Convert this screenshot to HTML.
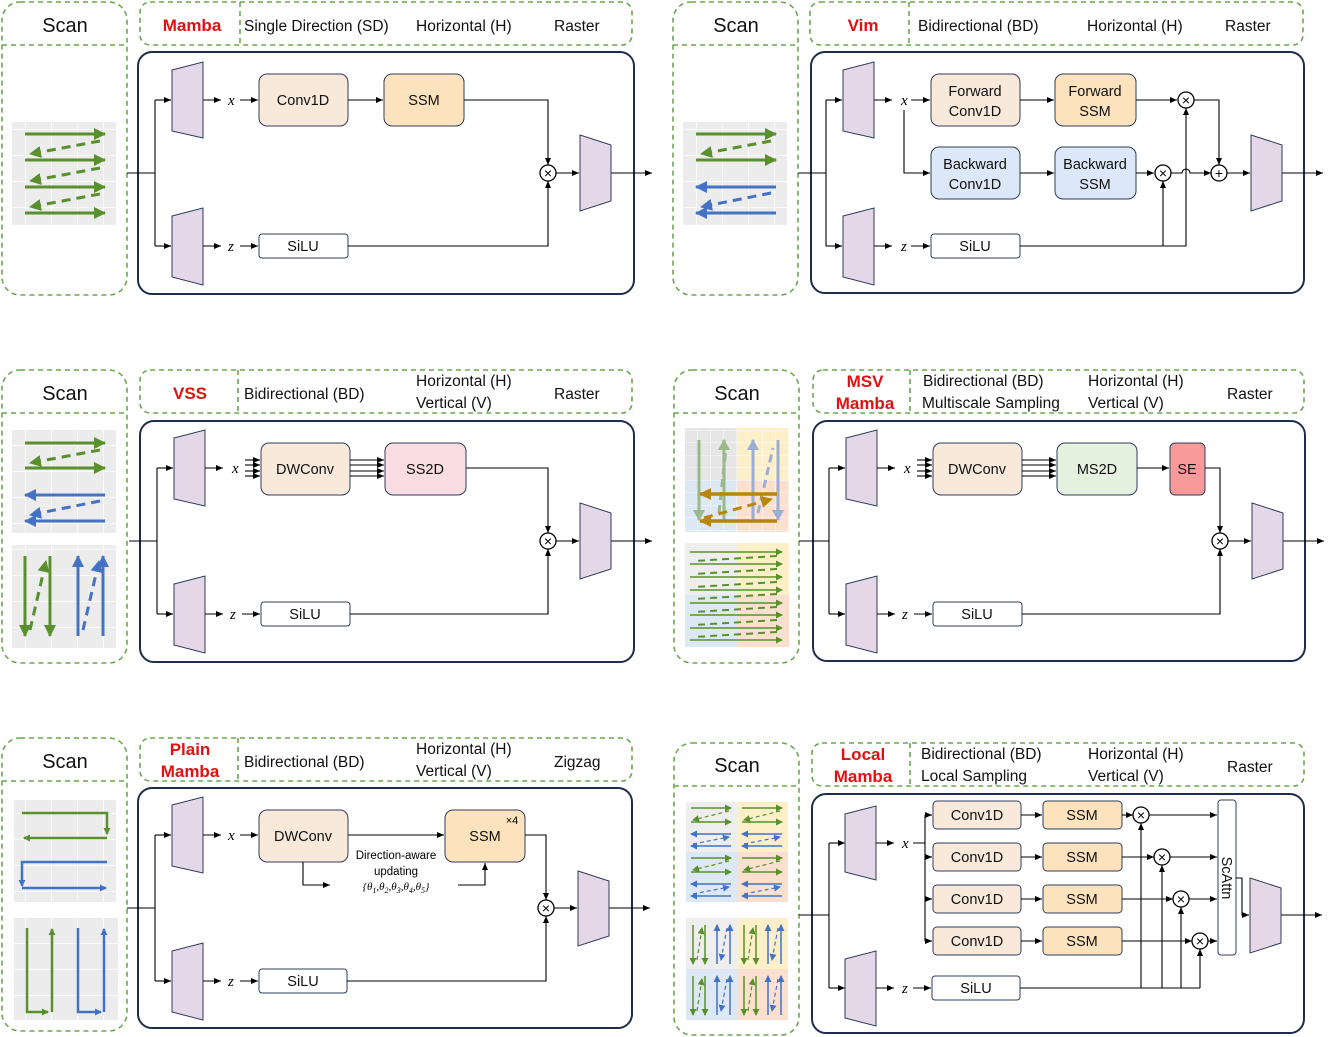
<!DOCTYPE html>
<html><head><meta charset="utf-8"><style>
body{margin:0;background:#fff}
svg{display:block;font-family:"Liberation Sans",sans-serif}
.d{fill:none;stroke:#6aa84f;stroke-width:1.6;stroke-dasharray:5 4}
.m{fill:none;stroke:#1f2d4d;stroke-width:2}
.l{fill:none;stroke:#000;stroke-width:1.1}
.a{fill:none;stroke:#000;stroke-width:1.1;marker-end:url(#ar)}
.tr{fill:#e3d7e8;stroke:#2f3c5a;stroke-width:1}
.bx{stroke:#2f3c5a;stroke-width:1}
.ot{fill:#fff;stroke:#000;stroke-width:1.3}
.h{font-size:15.5px;fill:#111}
.r{font-size:17px;font-weight:bold;fill:#e31010;text-anchor:middle}
.sc{font-size:20px;text-anchor:middle;fill:#111}
.bt{font-size:14.5px;text-anchor:middle;fill:#111}
.vx{font-family:"Liberation Serif",serif;font-style:italic;font-size:15px}
.ox{font-size:14px;text-anchor:middle}
.g{stroke:#5a8f2e;stroke-width:3;fill:none;marker-end:url(#ga)}
.gd{stroke:#5a8f2e;stroke-width:3;fill:none;stroke-dasharray:9 6;marker-end:url(#ga)}
.b{stroke:#4472c4;stroke-width:3;fill:none;marker-end:url(#ba)}
.bd{stroke:#4472c4;stroke-width:3;fill:none;stroke-dasharray:9 6;marker-end:url(#ba)}
.g1{stroke:#5a8f2e;stroke-width:1.5;fill:none;marker-end:url(#gs)}
.g1d{stroke:#5a8f2e;stroke-width:1.2;fill:none;stroke-dasharray:4 3;marker-end:url(#gs)}
.b1{stroke:#4472c4;stroke-width:1.5;fill:none;marker-end:url(#bs)}
.b1d{stroke:#4472c4;stroke-width:1.2;fill:none;stroke-dasharray:4 3;marker-end:url(#bs)}
</style></head><body>
<svg width="1329" height="1037" viewBox="0 0 1329 1037" xmlns="http://www.w3.org/2000/svg">
<defs>
<marker id="ar" markerWidth="8" markerHeight="8" refX="7" refY="4" orient="auto" markerUnits="userSpaceOnUse"><path d="M0,1 L7,4 L0,7z" fill="#000"/></marker>
<marker id="ga" markerWidth="14" markerHeight="12" refX="11" refY="6" orient="auto" markerUnits="userSpaceOnUse"><path d="M0,0 L12,6 L0,12z" fill="#5a8f2e"/></marker>
<marker id="ba" markerWidth="14" markerHeight="12" refX="11" refY="6" orient="auto" markerUnits="userSpaceOnUse"><path d="M0,0 L12,6 L0,12z" fill="#4472c4"/></marker>
<marker id="gs" markerWidth="8" markerHeight="8" refX="6" refY="3.5" orient="auto" markerUnits="userSpaceOnUse"><path d="M0,0 L7,3.5 L0,7z" fill="#5a8f2e"/></marker>
<marker id="bs" markerWidth="8" markerHeight="8" refX="6" refY="3.5" orient="auto" markerUnits="userSpaceOnUse"><path d="M0,0 L7,3.5 L0,7z" fill="#4472c4"/></marker>
<marker id="ya" markerWidth="14" markerHeight="12" refX="11" refY="6" orient="auto" markerUnits="userSpaceOnUse"><path d="M0,0 L12,6 L0,12z" fill="#b8860b"/></marker>
<marker id="la" markerWidth="12" markerHeight="12" refX="10" refY="6" orient="auto" markerUnits="userSpaceOnUse"><path d="M0,0 L11,6 L0,12z" fill="#9ab88a"/></marker>
<marker id="lb" markerWidth="12" markerHeight="12" refX="10" refY="6" orient="auto" markerUnits="userSpaceOnUse"><path d="M0,0 L11,6 L0,12z" fill="#9aaed6"/></marker>
<pattern id="grid" width="26" height="26" patternUnits="userSpaceOnUse"><rect width="26" height="26" fill="#ececec"/><path d="M26,0V26M0,26H26" stroke="#fff" stroke-width="1.5"/></pattern>
<pattern id="gridS" width="13" height="12.5" patternUnits="userSpaceOnUse"><path d="M13,0V12.5M0,12.5H13" stroke="#fff" stroke-width="1"/></pattern>
</defs>

<!-- ============ PANEL 1 : Mamba ============ -->
<g>
<rect class="d" x="2" y="2" width="125" height="293" rx="18"/><line class="d" x1="2" y1="45" x2="127" y2="45"/>
<text class="sc" x="65" y="32">Scan</text>
<rect class="d" x="140" y="2" width="492" height="43" rx="10"/><line class="d" x1="240" y1="2" x2="240" y2="45"/>
<text class="r" x="192" y="31">Mamba</text>
<text class="h" x="244" y="31">Single Direction (SD)</text><text class="h" x="416" y="31">Horizontal (H)</text><text class="h" x="554" y="31">Raster</text>
<rect class="m" x="138" y="52" width="496" height="242" rx="14"/>
<rect x="12" y="122" width="104" height="103" fill="url(#grid)"/>
<path class="g" d="M25,134H105"/><path class="g" d="M25,160H105"/><path class="g" d="M25,187H105"/><path class="g" d="M25,213H105"/>
<path class="gd" d="M100,141L30,154"/><path class="gd" d="M100,168L30,181"/><path class="gd" d="M100,194L30,207"/>
<path class="l" d="M127,173H155M155,100V246"/><path class="a" d="M155,100H171"/><path class="a" d="M155,246H171"/>
<polygon class="tr" points="172,70 203,62 203,138 172,131"/><polygon class="tr" points="172,216 203,208 203,285 172,277"/>
<path class="a" d="M203,100H221"/><path class="a" d="M240,100H258"/><path class="a" d="M203,246H221"/><path class="a" d="M240,246H258"/>
<text class="vx" x="228" y="105">x</text><text class="vx" x="228" y="251">z</text>
<rect class="bx" x="259" y="74" width="89" height="52" rx="8" fill="#f8e9da"/><text class="bt" x="303" y="105">Conv1D</text>
<rect class="bx" x="384" y="74" width="80" height="52" rx="8" fill="#fce3bd"/><text class="bt" x="424" y="105">SSM</text>
<path class="a" d="M348,100H383"/><path class="a" d="M464,100H548V165"/>
<rect class="bx" x="259" y="234" width="89" height="24" rx="3" fill="#fff"/><text class="bt" x="303" y="251">SiLU</text>
<path class="a" d="M348,246H548V181"/>
<circle class="ot" cx="548" cy="173" r="8"/><text class="ox" x="548" y="178">×</text>
<path class="a" d="M556,173H579"/><path class="a" d="M611,173H652"/>
<polygon class="tr" points="580,135 611,145 611,201 580,211"/>
</g>

<!-- ============ PANEL 2 : Vim ============ -->
<g transform="translate(671,0)">
<rect class="d" x="2" y="2" width="125" height="293" rx="18"/><line class="d" x1="2" y1="45" x2="127" y2="45"/>
<text class="sc" x="65" y="32">Scan</text>
<rect class="d" x="139" y="2" width="493" height="43" rx="10"/><line class="d" x1="238" y1="2" x2="238" y2="45"/>
<text class="r" x="192" y="31">Vim</text>
<text class="h" x="247" y="31">Bidirectional (BD)</text><text class="h" x="416" y="31">Horizontal (H)</text><text class="h" x="554" y="31">Raster</text>
<rect class="m" x="140" y="52" width="493" height="241" rx="14"/>
<rect x="12" y="122" width="104" height="103" fill="url(#grid)"/>
<path class="g" d="M25,134H105"/><path class="g" d="M25,160H105"/><path class="gd" d="M100,141L30,154"/>
<path class="b" d="M105,187H25"/><path class="b" d="M105,213H25"/><path class="bd" d="M100,193L30,207"/>
<path class="l" d="M127,173H155M155,100V246"/><path class="a" d="M155,100H171"/><path class="a" d="M155,246H171"/>
<polygon class="tr" points="172,70 203,62 203,138 172,131"/><polygon class="tr" points="172,216 203,208 203,285 172,277"/>
<path class="a" d="M203,100H221"/><path class="a" d="M240,100H259"/><path class="a" d="M203,246H221"/><path class="a" d="M240,246H259"/>
<text class="vx" x="230" y="105">x</text><text class="vx" x="230" y="251">z</text>
<path class="a" d="M233,110V173H259"/>
<rect class="bx" x="260" y="74" width="89" height="52" rx="8" fill="#f8e9da"/><text class="bt" x="304" y="96">Forward</text><text class="bt" x="304" y="116">Conv1D</text>
<rect class="bx" x="384" y="74" width="81" height="52" rx="8" fill="#fce3bd"/><text class="bt" x="424" y="96">Forward</text><text class="bt" x="424" y="116">SSM</text>
<rect class="bx" x="260" y="147" width="89" height="52" rx="8" fill="#dce8f8"/><text class="bt" x="304" y="169">Backward</text><text class="bt" x="304" y="189">Conv1D</text>
<rect class="bx" x="384" y="147" width="81" height="52" rx="8" fill="#dce8f8"/><text class="bt" x="424" y="169">Backward</text><text class="bt" x="424" y="189">SSM</text>
<path class="a" d="M349,100H383"/><path class="a" d="M349,173H383"/><path class="a" d="M465,100H506"/><path class="a" d="M465,173H483"/>
<rect class="bx" x="260" y="234" width="89" height="24" rx="3" fill="#fff"/><text class="bt" x="304" y="251">SiLU</text>
<path class="a" d="M349,246H515V108"/><path class="a" d="M492,246V181"/>
<circle class="ot" cx="515" cy="100" r="8"/><text class="ox" x="515" y="105">×</text>
<circle class="ot" cx="492" cy="173" r="8"/><text class="ox" x="492" y="178">×</text>
<path class="a" d="M523,100H548V165"/>
<path class="a" d="M500,173H511 A4,4 0 0 1 519,173H540"/>
<circle class="ot" cx="548" cy="173" r="8"/><text class="ox" x="548" y="178">+</text>
<path class="a" d="M556,173H579"/><path class="a" d="M611,173H652"/>
<polygon class="tr" points="580,135 611,145 611,201 580,211"/>
</g>

<!-- ============ PANEL 3 : VSS ============ -->
<g transform="translate(0,368)">
<rect class="d" x="2" y="2" width="125" height="293" rx="18"/><line class="d" x1="2" y1="45" x2="127" y2="45"/>
<text class="sc" x="65" y="32">Scan</text>
<rect class="d" x="140" y="2" width="492" height="43" rx="10"/><line class="d" x1="238" y1="2" x2="238" y2="45"/>
<text class="r" x="190" y="31">VSS</text>
<text class="h" x="244" y="31">Bidirectional (BD)</text><text class="h" x="416" y="18">Horizontal (H)</text><text class="h" x="416" y="40">Vertical (V)</text><text class="h" x="554" y="31">Raster</text>
<rect class="m" x="140" y="53" width="494" height="241" rx="14"/>
<rect x="12" y="62" width="104" height="103" fill="url(#grid)"/>
<path class="g" d="M25,75H105"/><path class="g" d="M25,100H105"/><path class="gd" d="M100,82L30,95"/>
<path class="b" d="M105,127H25"/><path class="b" d="M105,153H25"/><path class="bd" d="M100,133L30,147"/>
<rect x="12" y="177" width="104" height="103" fill="url(#grid)"/>
<path class="g" d="M25,188V268"/><path class="g" d="M50,188V268"/><path class="gd" d="M30,262L46,193"/>
<path class="b" d="M78,268V188"/><path class="b" d="M103,268V188"/><path class="bd" d="M83,262L99,193"/>
<g transform="translate(2,0)">
<path class="l" d="M127,173H155M155,100V246"/><path class="a" d="M155,100H171"/><path class="a" d="M155,246H171"/>
<polygon class="tr" points="172,70 203,62 203,138 172,131"/><polygon class="tr" points="172,216 203,208 203,285 172,277"/>
<path class="a" d="M203,100H221"/><path class="a" d="M203,246H221"/><path class="a" d="M240,246H258"/>
<path class="a" d="M243,92H258"/><path class="a" d="M243,97H258"/><path class="a" d="M243,103H258"/><path class="a" d="M243,108H258"/>
<text class="vx" x="230" y="105">x</text><text class="vx" x="228" y="251">z</text>
<rect class="bx" x="259" y="75" width="89" height="52" rx="8" fill="#f8e9da"/><text class="bt" x="303" y="106">DWConv</text>
<rect class="bx" x="383" y="75" width="81" height="52" rx="8" fill="#f9dde3"/><text class="bt" x="423" y="106">SS2D</text>
<path class="a" d="M348,92H382"/><path class="a" d="M348,97H382"/><path class="a" d="M348,103H382"/><path class="a" d="M348,108H382"/>
<path class="a" d="M464,100H546V165"/>
<rect class="bx" x="259" y="234" width="89" height="24" rx="3" fill="#fff"/><text class="bt" x="303" y="251">SiLU</text>
<path class="a" d="M348,246H546V181"/>
<circle class="ot" cx="546" cy="173" r="8"/><text class="ox" x="546" y="178">×</text>
<path class="a" d="M554,173H577"/><path class="a" d="M609,173H650"/>
<polygon class="tr" points="578,135 609,145 609,201 578,211"/>
</g>
</g>

<!-- ============ PANEL 4 : MSV Mamba ============ -->
<g transform="translate(672,368)">
<rect class="d" x="2" y="2" width="125" height="293" rx="18"/><line class="d" x1="2" y1="45" x2="127" y2="45"/>
<text class="sc" x="65" y="32">Scan</text>
<rect class="d" x="141" y="2" width="491" height="43" rx="10"/><line class="d" x1="238" y1="2" x2="238" y2="45"/>
<text class="r" x="193" y="19">MSV</text><text class="r" x="193" y="41">Mamba</text>
<text class="h" x="251" y="18">Bidirectional (BD)</text><text class="h" x="250" y="40">Multiscale Sampling</text>
<text class="h" x="416" y="18">Horizontal (H)</text><text class="h" x="416" y="40">Vertical (V)</text><text class="h" x="555" y="31">Raster</text>
<rect class="m" x="141" y="53" width="492" height="240" rx="14"/>
<rect x="13" y="60" width="52" height="52" fill="#e6e6e6"/>
<rect x="65" y="60" width="52" height="52" fill="#fdf0c8"/><rect x="13" y="112" width="52" height="52" fill="#dde8f5"/><rect x="65" y="112" width="52" height="52" fill="#fbe0d0"/>
<rect x="13" y="60" width="104" height="104" fill="url(#gridS)" opacity=".8"/>
<path d="M27,72V152" stroke="#9ab88a" stroke-width="3" fill="none" marker-end="url(#la)"/>
<path d="M52,152V72" stroke="#9ab88a" stroke-width="3" fill="none" marker-end="url(#la)"/>
<path d="M81,152V72" stroke="#9aaed6" stroke-width="3" fill="none" marker-end="url(#lb)"/>
<path d="M106,72V152" stroke="#9aaed6" stroke-width="3" fill="none" marker-end="url(#lb)"/>
<path d="M47,145L54,80" stroke="#9ab88a" stroke-width="3" stroke-dasharray="8 5" fill="none"/>
<path d="M86,145L101,80" stroke="#9aaed6" stroke-width="3" stroke-dasharray="8 5" fill="none"/>
<path d="M105,126H28" stroke="#b8860b" stroke-width="3.5" fill="none" marker-end="url(#ya)"/>
<path d="M105,153H28" stroke="#b8860b" stroke-width="3.5" fill="none" marker-end="url(#ya)"/>
<path d="M32,150L100,131" stroke="#b8860b" stroke-width="3" stroke-dasharray="9 6" fill="none" marker-end="url(#ya)"/>
<rect x="13" y="175" width="104" height="104" fill="#eee"/><rect x="65" y="175" width="52" height="52" fill="#fdf0c8"/><rect x="13" y="227" width="52" height="52" fill="#dde8f5"/><rect x="65" y="227" width="52" height="52" fill="#fbe0d0"/>
<path class="g1" d="M18,184H110"/><path class="g1" d="M18,196H110"/><path class="g1" d="M18,209H110"/><path class="g1" d="M18,222H110"/>
<path class="g1" d="M18,235H110"/><path class="g1" d="M18,247H110"/><path class="g1" d="M18,260H110"/><path class="g1" d="M18,272H110"/>
<path d="M105,188L22,193M105,201L22,206M105,214L22,219M105,226L22,231M105,239L22,244M105,252L22,257M105,264L22,269" stroke="#5a8f2e" stroke-width="2" stroke-dasharray="7 5"/>
<path class="l" d="M127,173H157M157,100V246"/><path class="a" d="M157,100H173"/><path class="a" d="M157,246H173"/>
<polygon class="tr" points="174,70 205,62 205,138 174,131"/><polygon class="tr" points="174,216 205,208 205,285 174,277"/>
<path class="a" d="M205,100H223"/><path class="a" d="M205,246H223"/><path class="a" d="M242,246H260"/>
<path class="a" d="M245,92H260"/><path class="a" d="M245,97H260"/><path class="a" d="M245,103H260"/><path class="a" d="M245,108H260"/>
<text class="vx" x="232" y="105">x</text><text class="vx" x="230" y="251">z</text>
<rect class="bx" x="261" y="75" width="89" height="52" rx="8" fill="#f8e9da"/><text class="bt" x="305" y="106">DWConv</text>
<rect class="bx" x="385" y="75" width="80" height="52" rx="8" fill="#e6f2e0"/><text class="bt" x="425" y="106">MS2D</text>
<path class="a" d="M350,92H384"/><path class="a" d="M350,97H384"/><path class="a" d="M350,103H384"/><path class="a" d="M350,108H384"/><path class="a" d="M465,100H497"/>
<rect class="bx" x="498" y="75" width="35" height="52" rx="5" fill="#f99a9a"/><text class="bt" x="515" y="106">SE</text>
<path class="a" d="M533,100H548V165"/>
<rect class="bx" x="261" y="234" width="89" height="24" rx="3" fill="#fff"/><text class="bt" x="305" y="251">SiLU</text>
<path class="a" d="M350,246H548V181"/>
<circle class="ot" cx="548" cy="173" r="8"/><text class="ox" x="548" y="178">×</text>
<path class="a" d="M556,173H579"/><path class="a" d="M611,173H652"/>
<polygon class="tr" points="580,135 611,145 611,201 580,211"/>
</g>

<!-- ============ PANEL 5 : Plain Mamba ============ -->
<g transform="translate(0,736)">
<rect class="d" x="2" y="2" width="125" height="293" rx="18"/><line class="d" x1="2" y1="45" x2="127" y2="45"/>
<text class="sc" x="65" y="32">Scan</text>
<rect class="d" x="140" y="2" width="492" height="43" rx="10"/><line class="d" x1="238" y1="2" x2="238" y2="45"/>
<text class="r" x="190" y="19">Plain</text><text class="r" x="190" y="41">Mamba</text>
<text class="h" x="244" y="31">Bidirectional (BD)</text><text class="h" x="416" y="18">Horizontal (H)</text><text class="h" x="416" y="40">Vertical (V)</text><text class="h" x="554" y="31">Zigzag</text>
<rect class="m" x="138" y="52" width="494" height="240" rx="14"/>
<rect x="14" y="64" width="102" height="102" fill="url(#grid)"/>
<path d="M22,77H107V98" stroke="#5a8f2e" stroke-width="2.5" fill="none" marker-end="url(#gs)"/><path class="g1" style="stroke-width:2.5" d="M107,102H24"/>
<path d="M107,126H22V150" stroke="#4472c4" stroke-width="2.5" fill="none" marker-end="url(#bs)"/><path class="b1" style="stroke-width:2.5" d="M22,152H106"/>
<rect x="14" y="182" width="104" height="102" fill="url(#grid)"/>
<path d="M27,192V276H48" stroke="#5a8f2e" stroke-width="2.5" fill="none" marker-end="url(#gs)"/><path class="g1" style="stroke-width:2.5" d="M52,276V193"/>
<path d="M78,192V276H101" stroke="#4472c4" stroke-width="2.5" fill="none" marker-end="url(#bs)"/><path class="b1" style="stroke-width:2.5" d="M104,276V193"/>
<path class="l" d="M127,172H155M155,99V245"/><path class="a" d="M155,99H171"/><path class="a" d="M155,245H171"/>
<polygon class="tr" points="172,69 203,61 203,137 172,130"/><polygon class="tr" points="172,215 203,207 203,284 172,276"/>
<path class="a" d="M203,99H221"/><path class="a" d="M240,99H258"/><path class="a" d="M203,245H221"/><path class="a" d="M240,245H258"/>
<text class="vx" x="228" y="104">x</text><text class="vx" x="228" y="250">z</text>
<rect class="bx" x="259" y="74" width="89" height="52" rx="8" fill="#f8e9da"/><text class="bt" x="303" y="105">DWConv</text>
<rect class="bx" x="445" y="74" width="80" height="52" rx="8" fill="#fce3bd"/><text class="bt" x="485" y="105">SSM</text>
<text x="512" y="88" font-size="11" text-anchor="middle">×4</text>
<path class="a" d="M348,99H444"/>
<text x="396" y="123" font-size="11.5" text-anchor="middle">Direction-aware</text>
<text x="396" y="139" font-size="11.5" text-anchor="middle">updating</text>
<text x="396" y="154" font-size="11" text-anchor="middle" font-family="Liberation Serif,serif" font-style="italic">{θ<tspan font-size="8" dy="3">1</tspan><tspan dy="-3">,θ</tspan><tspan font-size="8" dy="3">2</tspan><tspan dy="-3">,θ</tspan><tspan font-size="8" dy="3">3</tspan><tspan dy="-3">,θ</tspan><tspan font-size="8" dy="3">4</tspan><tspan dy="-3">,θ</tspan><tspan font-size="8" dy="3">5</tspan><tspan dy="-3">}</tspan></text>
<path class="a" d="M303,126V149H330"/><path class="a" d="M458,149H485V127"/>
<path class="a" d="M525,99H546V164"/>
<rect class="bx" x="259" y="233" width="88" height="24" rx="3" fill="#fff"/><text class="bt" x="303" y="250">SiLU</text>
<path class="a" d="M347,245H546V180"/>
<circle class="ot" cx="546" cy="172" r="8"/><text class="ox" x="546" y="177">×</text>
<path class="a" d="M554,172H577"/><path class="a" d="M609,172H650"/>
<polygon class="tr" points="578,135 609,145 609,200 578,210"/>
</g>

<!-- ============ PANEL 6 : Local Mamba ============ -->
<g>
<rect class="d" x="674" y="743" width="125" height="292" rx="18"/><line class="d" x1="674" y1="786" x2="799" y2="786"/>
<text class="sc" x="737" y="772">Scan</text>
<rect class="d" x="812" y="743" width="492" height="43" rx="10"/><line class="d" x1="910" y1="743" x2="910" y2="786"/>
<text class="r" x="863" y="760">Local</text><text class="r" x="863" y="782">Mamba</text>
<text class="h" x="921" y="759">Bidirectional (BD)</text><text class="h" x="921" y="781">Local Sampling</text>
<text class="h" x="1088" y="759">Horizontal (H)</text><text class="h" x="1088" y="781">Vertical (V)</text><text class="h" x="1227" y="772">Raster</text>
<rect class="m" x="812" y="794" width="492" height="239" rx="14"/>
<rect x="686" y="802" width="51" height="50" fill="#eee"/><rect x="737" y="802" width="51" height="50" fill="#fdf0c8"/>
<rect x="686" y="852" width="51" height="50" fill="#dde8f5"/><rect x="737" y="852" width="51" height="50" fill="#fbe0d0"/>
<g id="lq">
<path class="g1" d="M691,808H731"/><path class="g1" d="M691,822H731"/><path class="g1d" d="M729,811L693,820"/>
<path class="b1" d="M731,834H691"/><path class="b1" d="M731,846H691"/><path class="b1d" d="M693,844L729,837"/>
</g>
<use href="#lq" x="51"/><use href="#lq" y="50"/><use href="#lq" x="51" y="50"/>
<rect x="686" y="918" width="51" height="51" fill="#eee"/><rect x="737" y="918" width="51" height="51" fill="#fdf0c8"/>
<rect x="686" y="969" width="51" height="51" fill="#dde8f5"/><rect x="737" y="969" width="51" height="51" fill="#fbe0d0"/>
<g id="vq">
<path class="g1" d="M693,925V964"/><path class="g1" d="M705,925V964"/><path class="g1d" d="M697,960L702,928"/>
<path class="b1" d="M717,964V925"/><path class="b1" d="M730,964V925"/><path class="b1d" d="M727,928L721,960"/>
</g>
<use href="#vq" x="51"/><use href="#vq" y="51"/><use href="#vq" x="51" y="51"/>
<path class="l" d="M799,915H829M829,843V988"/><path class="a" d="M829,843H845"/><path class="a" d="M829,988H845"/>
<polygon class="tr" points="845,814 876,806 876,880 845,872"/><polygon class="tr" points="845,959 876,951 876,1026 845,1018"/>
<path class="a" d="M876,843H894"/><path class="a" d="M876,988H894"/><path class="a" d="M913,988H931"/>
<text class="vx" x="902" y="848">x</text><text class="vx" x="902" y="993">z</text>
<path class="l" d="M913,843H925M925,815V941"/>
<path class="a" d="M925,815H932"/><path class="a" d="M925,857H932"/><path class="a" d="M925,899H932"/><path class="a" d="M925,941H932"/>
<g id="row">
<rect class="bx" x="933" y="801" width="88" height="28" rx="4" fill="#f8e9da"/><text class="bt" x="977" y="820">Conv1D</text>
<rect class="bx" x="1043" y="801" width="79" height="28" rx="4" fill="#fce3bd"/><text class="bt" x="1082" y="820">SSM</text>
<path class="a" d="M1021,815H1042"/>
</g>
<use href="#row" y="42"/><use href="#row" y="84"/><use href="#row" y="126"/>
<rect class="bx" x="1218" y="800" width="18" height="155" rx="3" fill="#fff"/>
<text class="bt" transform="translate(1222,878) rotate(90)" text-anchor="middle">ScAttn</text>
<path class="a" d="M1122,815H1133"/><path class="a" d="M1122,857H1154"/><path class="a" d="M1122,899H1173"/><path class="a" d="M1122,941H1192"/>
<path class="a" d="M1149,815H1217"/><path class="a" d="M1170,857H1217"/><path class="a" d="M1189,899H1217"/><path class="a" d="M1208,941H1217"/>
<rect class="bx" x="932" y="976" width="88" height="24" rx="3" fill="#fff"/><text class="bt" x="976" y="993">SiLU</text>
<path class="l" d="M1020,988H1200"/>
<path class="a" d="M1141,988V823"/><path class="a" d="M1162,988V865"/><path class="a" d="M1181,988V907"/><path class="a" d="M1200,988V949"/>
<circle class="ot" cx="1141" cy="815" r="8"/><text class="ox" x="1141" y="820">×</text>
<circle class="ot" cx="1162" cy="857" r="8"/><text class="ox" x="1162" y="862">×</text>
<circle class="ot" cx="1181" cy="899" r="8"/><text class="ox" x="1181" y="904">×</text>
<circle class="ot" cx="1200" cy="941" r="8"/><text class="ox" x="1200" y="946">×</text>
<path class="a" d="M1236,878H1242V915H1249"/><path class="a" d="M1281,915H1322"/>
<polygon class="tr" points="1250,878 1281,888 1281,943 1250,953"/>
</g>
</svg>
</body></html>
